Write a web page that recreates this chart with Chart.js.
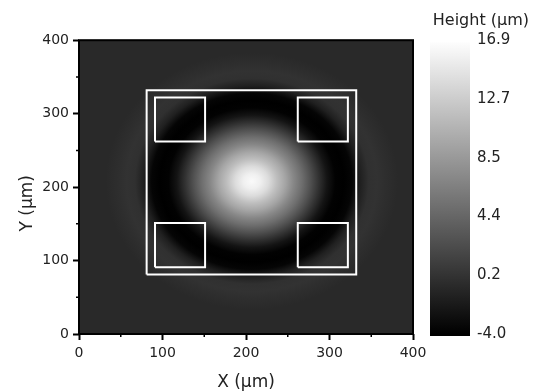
<!DOCTYPE html>
<html>
<head>
<meta charset="utf-8">
<title>Height map</title>
<script src="https://cdn.jsdelivr.net/npm/chart.js@4/dist/chart.umd.min.js"></script>
<style>
  html, body { margin: 0; padding: 0; background: #fff; overflow: hidden; }
  canvas { display: block; position: absolute; left: 0; top: 0; }
</style>
</head>
<body>
<canvas id="mapChart" width="536" height="391"></canvas>
<script>
(function () {
  "use strict";

  // radial height profile: distance from the peak (µm) -> height (µm)
  const profileR = [0, 10, 20, 30, 40, 50, 60, 70, 80, 90, 100, 110, 120, 130, 140, 150, 160, 175, 200];
  const profileH = [16.5, 15.7, 14.0, 11.6, 9.5, 7.1, 5.0, 2.6, 0.1, -2.4, -3.8, -4.0, -3.6, -1.4, -0.1, 0.1, -0.2, -0.6, -0.6];
  const peakXY   = [207, 208];

  // measurement boxes, µm
  const boxX0 = [81, 91, 262, 91, 262];
  const boxY0 = [81, 262, 262, 91, 91];
  const boxX1 = [332, 151, 322, 151, 322];
  const boxY1 = [332, 322, 322, 151, 151];

  const axisMin = 0, axisMax = 400;
  const heightTicks = [-4.0, 0.2, 4.4, 8.5, 12.7, 16.9];

  const FONT = "'DejaVu Sans', Verdana, sans-serif";
  const INK  = "#222";
  Chart.defaults.font.family = FONT;
  Chart.defaults.color = INK;

  const hMin = heightTicks[0], hMax = heightTicks[heightTicks.length - 1];

  function gray(h) {
    let g = Math.round(255 * (h - hMin) / (hMax - hMin));
    g = Math.max(0, Math.min(255, g));
    return `rgb(${g},${g},${g})`;
  }

  const boxes = boxX0.map((x0, i) => ({
    label: "box" + i,
    data: [
      { x: x0, y: boxY0[i] }, { x: boxX1[i], y: boxY0[i] },
      { x: boxX1[i], y: boxY1[i] }, { x: x0, y: boxY1[i] }, { x: x0, y: boxY0[i] }
    ],
    showLine: true,
    borderColor: "#fff",
    borderWidth: 2,
    pointRadius: 0,
    pointHoverRadius: 0,
    tension: 0
  }));

  const heatmap = {
    id: "heatmap",
    beforeDatasetsDraw(chart) {
      const { ctx, chartArea: a, scales: { x, y, h } } = chart;
      ctx.save();
      ctx.beginPath();
      ctx.rect(a.left, a.top, a.right - a.left, a.bottom - a.top);
      ctx.clip();
      ctx.fillStyle = gray(profileH[profileH.length - 1]);
      ctx.fillRect(a.left, a.top, a.right - a.left, a.bottom - a.top);

      const cx = x.getPixelForValue(peakXY[0]);
      const cy = y.getPixelForValue(peakXY[1]);
      const rMax = profileR[profileR.length - 1];
      const rx = x.getPixelForValue(peakXY[0] + rMax) - cx;
      const ry = cy - y.getPixelForValue(peakXY[1] + rMax);
      ctx.translate(cx, cy);
      ctx.scale(1, ry / rx);
      const grad = ctx.createRadialGradient(0, 0, 0, 0, 0, rx);
      profileR.forEach((r, i) => grad.addColorStop(r / rMax, gray(profileH[i])));
      ctx.fillStyle = grad;
      ctx.fillRect(-rx * 3, -rx * 3, rx * 6, rx * 6);
      ctx.restore();

      // colour bar
      const top = h.getPixelForValue(hMax), bot = h.getPixelForValue(hMin);
      const cg = ctx.createLinearGradient(0, bot, 0, top);
      cg.addColorStop(0, gray(hMin));
      cg.addColorStop(1, gray(hMax));
      ctx.save();
      ctx.fillStyle = cg;
      ctx.fillRect(h.left + 17, top + 2, 40, bot - top);
      ctx.restore();
    },
    afterDatasetsDraw(chart) {
      const { ctx, chartArea: a, scales: { x, y } } = chart;
      ctx.save();
      ctx.strokeStyle = "#000";
      ctx.lineWidth = 2;
      ctx.strokeRect(a.left, a.top, a.right - a.left, a.bottom - a.top);
      // minor ticks
      ctx.lineWidth = 1.5;
      ctx.beginPath();
      x.ticks.forEach(t => {
        if (t.value % 100 === 0) return;
        const px = x.getPixelForValue(t.value);
        ctx.moveTo(px, a.bottom); ctx.lineTo(px, a.bottom + 3);
      });
      y.ticks.forEach(t => {
        if (t.value % 100 === 0) return;
        const py = y.getPixelForValue(t.value);
        ctx.moveTo(a.left, py); ctx.lineTo(a.left - 3, py);
      });
      ctx.stroke();
      ctx.restore();
    }
  };

  const majorOnly = c => (c.tick && c.tick.value % 100 === 0) ? "#000" : "rgba(0,0,0,0)";

  new Chart(document.getElementById("mapChart"), {
    type: "scatter",
    data: { datasets: boxes },
    options: {
      responsive: false,
      animation: false,
      events: [],
      layout: { padding: { left: 0, right: 7, top: 0, bottom: 0 } },
      plugins: {
        legend: { display: false },
        tooltip: { enabled: false },
        title: {
          display: true,
          text: "Height (µm)",
          align: "end",
          color: INK,
          font: { size: 16, weight: "normal" },
          padding: { top: 11, bottom: 10 }
        }
      },
      scales: {
        x: {
          type: "linear", position: "bottom", min: axisMin, max: axisMax,
          ticks: { stepSize: 50, padding: 5, autoSkip: false, maxRotation: 0, color: INK,
                   font: { size: 14 }, callback: v => v % 100 === 0 ? v : "" },
          grid: { drawOnChartArea: false, tickLength: 6, tickWidth: 2, tickColor: majorOnly },
          border: { display: false },
          title: { display: true, text: "X (µm)", color: INK, font: { size: 17 }, padding: { top: 0, bottom: -2 } },
          afterFit: s => { s.height = 57; }
        },
        y: {
          type: "linear", position: "left", min: axisMin, max: axisMax,
          ticks: { stepSize: 50, padding: 4, autoSkip: false, color: INK,
                   font: { size: 14 }, callback: v => v % 100 === 0 ? v : "" },
          grid: { drawOnChartArea: false, tickLength: 6, tickWidth: 2, tickColor: majorOnly },
          border: { display: false },
          title: { display: true, text: "Y (µm)" + "\u00a0".repeat(6), color: INK, font: { size: 17 },
                   padding: { top: 17, bottom: 0 } },
          afterFit: s => { s.width = 79; }
        },
        h: {
          type: "linear", position: "right", min: hMin, max: hMax,
          afterBuildTicks: s => { s.ticks = heightTicks.map(v => ({ value: v })); },
          ticks: { padding: 2, color: INK, font: { size: 15 }, callback: v => v.toFixed(1) },
          grid: { display: true, drawOnChartArea: false, drawTicks: true, tickLength: 62, tickColor: "rgba(0,0,0,0)" },
          border: { display: false },
          afterFit: s => { s.width = 116; }
        }
      }
    },
    plugins: [heatmap]
  });
})();
</script>
</body>
</html>
